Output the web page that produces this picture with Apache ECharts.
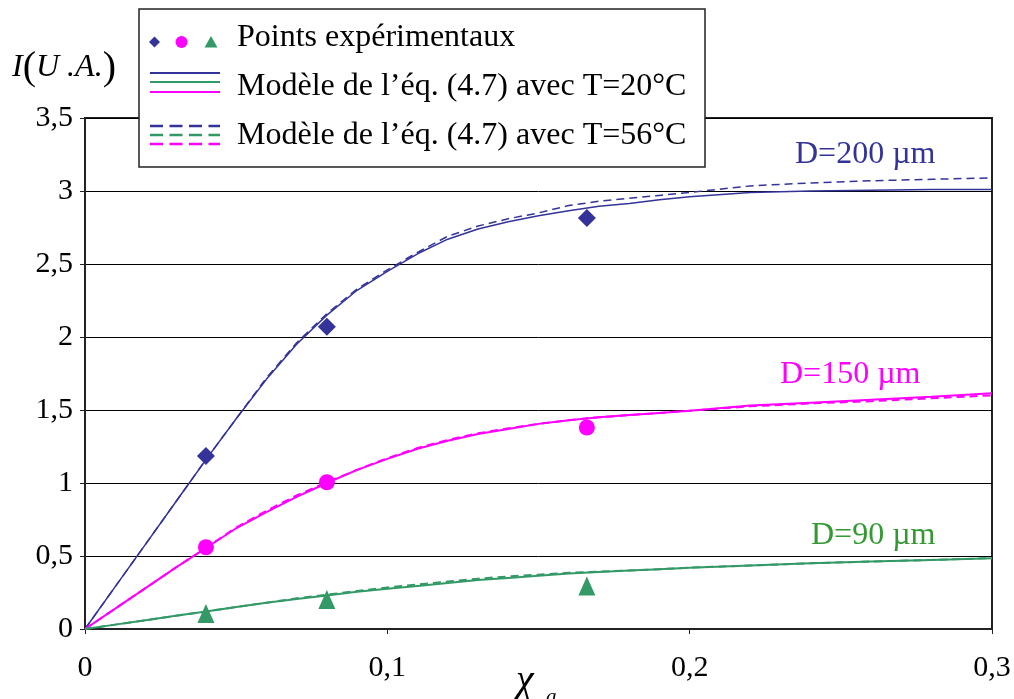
<!DOCTYPE html>
<html>
<head>
<meta charset="utf-8">
<script src="https://cdn.jsdelivr.net/npm/echarts@6/dist/echarts.min.js"></script>
<style>html,body{margin:0;padding:0;background:#fff}#c{width:1014px;height:699px}</style>
</head>
<body>
<div id="c"></div>
<script>
// ---- data ----
const xTickLabels = ['0', '0,1', '0,2', '0,3'];
const yTickLabels = ['0', '0,5', '1', '1,5', '2', '2,5', '3', '3,5'];

const xModel = [0, 0.01, 0.02, 0.03, 0.04, 0.05, 0.06, 0.07, 0.08, 0.09, 0.1, 0.11, 0.12, 0.13, 0.14, 0.15, 0.16, 0.17, 0.18, 0.19, 0.2, 0.22, 0.24, 0.26, 0.28, 0.3];

const blue20 = [0, 0.29, 0.58, 0.87, 1.16, 1.44, 1.71, 1.95, 2.15, 2.32, 2.45, 2.57, 2.67, 2.74, 2.79, 2.83, 2.865, 2.895, 2.915, 2.94, 2.96, 2.99, 3.0, 3.005, 3.01, 3.01];
const blue56 = [0, 0.29, 0.58, 0.87, 1.16, 1.44, 1.72, 1.96, 2.16, 2.33, 2.46, 2.58, 2.69, 2.76, 2.81, 2.85, 2.90, 2.93, 2.95, 2.97, 2.99, 3.035, 3.055, 3.07, 3.08, 3.09];
const mag20 = [0, 0.14, 0.28, 0.42, 0.555, 0.69, 0.80, 0.905, 1.0, 1.09, 1.165, 1.235, 1.29, 1.335, 1.37, 1.405, 1.43, 1.45, 1.465, 1.48, 1.495, 1.53, 1.55, 1.57, 1.59, 1.615];
const mag56 = [0, 0.14, 0.28, 0.42, 0.555, 0.695, 0.81, 0.915, 1.005, 1.09, 1.17, 1.24, 1.295, 1.34, 1.375, 1.405, 1.43, 1.45, 1.465, 1.48, 1.495, 1.525, 1.545, 1.56, 1.58, 1.60];
const green20 = [0, 0.03, 0.06, 0.09, 0.12, 0.15, 0.18, 0.205, 0.23, 0.255, 0.275, 0.295, 0.315, 0.335, 0.35, 0.365, 0.38, 0.39, 0.40, 0.41, 0.42, 0.435, 0.45, 0.462, 0.473, 0.485];
const green56 = [0, 0.03, 0.06, 0.09, 0.12, 0.15, 0.18, 0.21, 0.235, 0.26, 0.285, 0.305, 0.325, 0.345, 0.36, 0.372, 0.385, 0.393, 0.40, 0.41, 0.42, 0.435, 0.45, 0.462, 0.473, 0.485];

const xExp = [0.04, 0.08, 0.166];
const blueExp = [1.185, 2.07, 2.815];
const magExp = [0.56, 1.005, 1.38];
const greenExp = [0.106, 0.202, 0.295];

const legendTexts = ['Points expérimentaux', 'Modèle de l\u2019éq. (4.7) avec T=20°C', 'Modèle de l\u2019éq. (4.7) avec T=56°C'];
const curveLabels = ['D=200 µm', 'D=150 µm', 'D=90 µm'];

// ---- build ----
const BLUE = '#333399', MAG = '#FF00FF', GREEN = '#339966', GREEN_T = '#339933';
const FONT = '"Liberation Serif", "Times New Roman", serif';
const pairs = (xs, ys) => xs.map((x, i) => [x, ys[i]]);

function lineSeries(ys, color, dashed, w) {
  return {
    type: 'line', data: pairs(xModel, ys), showSymbol: false, symbol: 'none',
    lineStyle: { color: color, width: w, type: dashed ? [8, 5] : 'solid' },
    z: 2, silent: true
  };
}
function scatterSeries(ys, color, symbol, size) {
  return {
    type: 'scatter', data: pairs(xExp, ys), symbol: symbol, symbolSize: size,
    itemStyle: { color: color, opacity: 1 }, z: 5, silent: true
  };
}

const chart = echarts.init(document.getElementById('c'), null, { renderer: 'canvas' });

const lx1 = 150, lx2 = 220;
const LF = '32px ' + FONT;
const graphics = [
  { type: 'rect', shape: { x: 139, y: 9, width: 566, height: 158 }, style: { fill: '#fff', stroke: '#222', lineWidth: 1.5 }, z: 100 },
  // row 1 icons
  { type: 'polygon', shape: { points: [[154.5, 36.5], [160, 42], [154.5, 47.5], [149, 42]] }, style: { fill: BLUE }, z: 101 },
  { type: 'circle', shape: { cx: 181.5, cy: 42, r: 6 }, style: { fill: MAG }, z: 101 },
  { type: 'polygon', shape: { points: [[211, 36], [217.5, 47.5], [204.5, 47.5]] }, style: { fill: GREEN }, z: 101 },
  // row 2 solid lines
  { type: 'line', shape: { x1: lx1, y1: 73, x2: lx2, y2: 73 }, style: { stroke: BLUE, lineWidth: 2 }, z: 101 },
  { type: 'line', shape: { x1: lx1, y1: 82, x2: lx2, y2: 82 }, style: { stroke: GREEN, lineWidth: 2 }, z: 101 },
  { type: 'line', shape: { x1: lx1, y1: 92, x2: lx2, y2: 92 }, style: { stroke: MAG, lineWidth: 2 }, z: 101 },
  // row 3 dashed lines
  { type: 'line', shape: { x1: lx1, y1: 126, x2: lx2, y2: 126 }, style: { stroke: BLUE, lineWidth: 2.5, lineDash: [13, 6.5] }, z: 101 },
  { type: 'line', shape: { x1: lx1, y1: 135, x2: lx2, y2: 135 }, style: { stroke: GREEN, lineWidth: 2.5, lineDash: [13, 6.5] }, z: 101 },
  { type: 'line', shape: { x1: lx1, y1: 144, x2: lx2, y2: 144 }, style: { stroke: MAG, lineWidth: 2.5, lineDash: [13, 6.5] }, z: 101 },
  // legend texts
  { type: 'text', x: 237, y: 38, style: { text: legendTexts[0], font: LF, fill: '#000', verticalAlign: 'middle' }, z: 101 },
  { type: 'text', x: 237, y: 87, style: { text: legendTexts[1], font: LF, fill: '#000', verticalAlign: 'middle' }, z: 101 },
  { type: 'text', x: 237, y: 136, style: { text: legendTexts[2], font: LF, fill: '#000', verticalAlign: 'middle' }, z: 101 },
  // curve labels
  { type: 'text', x: 795, y: 155, style: { text: curveLabels[0], font: LF, fill: BLUE, verticalAlign: 'middle' }, z: 101 },
  { type: 'text', x: 780, y: 375, style: { text: curveLabels[1], font: LF, fill: MAG, verticalAlign: 'middle' }, z: 101 },
  { type: 'text', x: 811, y: 536, style: { text: curveLabels[2], font: LF, fill: GREEN_T, verticalAlign: 'middle' }, z: 101 },
  // y axis name
  {
    type: 'text', x: 12, y: 68, z: 101,
    style: {
      text: '{i|I}{p|(}{i|U .A.}{p|)}', verticalAlign: 'middle', fill: '#000',
      rich: {
        i: { font: 'italic 32px ' + FONT, fill: '#000' },
        p: { font: '40px ' + FONT, fill: '#000' }
      }
    }
  },
  // x axis name
  { type: 'text', x: 516, y: 681, style: { text: 'χ', font: 'italic 40px ' + FONT, fill: '#000', verticalAlign: 'middle' }, z: 101 },
  { type: 'text', x: 546, y: 697, style: { text: 'a', font: 'italic 21px ' + FONT, fill: '#000', verticalAlign: 'middle' }, z: 101 }
];

chart.setOption({
  animation: false,
  backgroundColor: '#fff',
  grid: { left: 85, right: 22, top: 118, bottom: 70, show: true, borderColor: '#222', borderWidth: 2, backgroundColor: 'transparent' },
  xAxis: {
    type: 'value', min: 0, max: 0.3, interval: 0.1,
    axisLine: { show: true, onZero: false, lineStyle: { color: '#222', width: 2 } },
    axisTick: { show: true, inside: false, length: 5, lineStyle: { color: '#222', width: 1 } },
    splitLine: { show: false },
    axisLabel: { formatter: (v, i) => xTickLabels[Math.round(v / 0.1)], margin: 24, fontSize: 30, fontFamily: FONT, color: '#000' }
  },
  yAxis: {
    type: 'value', min: 0, max: 3.5, interval: 0.5,
    axisLine: { show: true, lineStyle: { color: '#222', width: 2 } },
    axisTick: { show: true, inside: false, length: 5, lineStyle: { color: '#222', width: 1 } },
    splitLine: { show: true, lineStyle: { color: '#000', width: 1 } },
    axisLabel: { formatter: (v, i) => yTickLabels[Math.round(v / 0.5)], margin: 12, fontSize: 30, fontFamily: FONT, color: '#000' }
  },
  series: [
    lineSeries(blue56, BLUE, true, 1.5),
    lineSeries(blue20, BLUE, false, 1.5),
    lineSeries(mag56, MAG, true, 2),
    lineSeries(mag20, MAG, false, 2),
    lineSeries(green56, GREEN, true, 2),
    lineSeries(green20, GREEN, false, 2),
    scatterSeries(blueExp, BLUE, 'diamond', [18, 18]),
    scatterSeries(magExp, MAG, 'circle', 16),
    scatterSeries(greenExp, GREEN, 'triangle', [17, 19])
  ],
  graphic: { elements: graphics }
});
</script>
</body>
</html>
